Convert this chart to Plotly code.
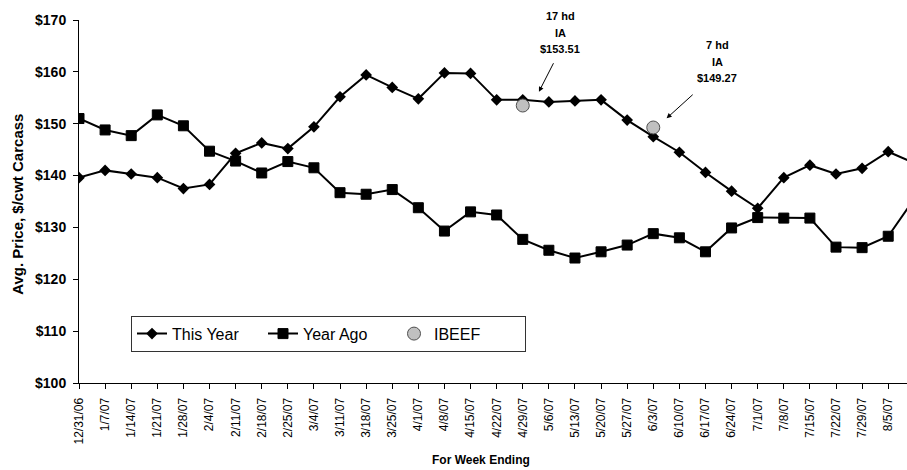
import plotly.graph_objects as go

weeks = ['12/31/06', '1/7/07', '1/14/07', '1/21/07', '1/28/07', '2/4/07', '2/11/07', '2/18/07',
         '2/25/07', '3/4/07', '3/11/07', '3/18/07', '3/25/07', '4/1/07', '4/8/07', '4/15/07',
         '4/22/07', '4/29/07', '5/6/07', '5/13/07', '5/20/07', '5/27/07', '6/3/07', '6/10/07',
         '6/17/07', '6/24/07', '7/1/07', '7/8/07', '7/15/07', '7/22/07', '7/29/07', '8/5/07',
         '8/12/07']

this_year = [139.6, 141.0, 140.3, 139.6, 137.5, 138.3, 144.3, 146.3, 145.2, 149.4, 155.2,
             159.4, 157.0, 154.8, 159.8, 159.7, 154.6, 154.6, 154.2, 154.4, 154.6, 150.7,
             147.5, 144.5, 140.6, 137.0, 133.7, 139.6, 142.0, 140.3, 141.4, 144.6, 142.4]

year_ago = [151.0, 148.8, 147.7, 151.7, 149.6, 144.7, 142.8, 140.5, 142.7, 141.5, 136.7,
            136.4, 137.3, 133.8, 129.3, 133.0, 132.4, 127.7, 125.6, 124.1, 125.3, 126.6,
            128.8, 128.0, 125.3, 129.9, 131.9, 131.8, 131.8, 126.2, 126.1, 128.3, 135.5]

ibeef_weeks = ['4/29/07', '6/3/07']
ibeef_price = [153.51, 149.27]
ibeef_notes = [['17 hd', 'IA', '$153.51'], ['7 hd', 'IA', '$149.27']]

FONT = 'Arial, Liberation Sans, sans-serif'

# plot area geometry (pixels)
L, T, W, H = 79, 20, 828, 363


def px_x(px):
    return (px - L) / W


def px_y(py):
    return 1 - (py - T) / H


fig = go.Figure()
fig.add_trace(go.Scatter(
    x=weeks, y=this_year, name='This Year', mode='lines+markers',
    line=dict(color='black', width=2),
    marker=dict(symbol='diamond', size=9, color='black')))
fig.add_trace(go.Scatter(
    x=weeks, y=year_ago, name='Year Ago', mode='lines+markers',
    line=dict(color='black', width=2),
    marker=dict(symbol='square', size=10, color='black', line=dict(color='black', width=1))))
fig.add_trace(go.Scatter(
    x=ibeef_weeks, y=ibeef_price, name='IBEEF', mode='markers',
    marker=dict(symbol='circle', size=13, color='#c0c0c0', line=dict(color='#505050', width=1))))

# annotation text blocks (pixel positions of each line's centre)
note_pos = [(560, [15.7, 33.3, 49.3]), (717.3, [45, 61.7, 77.7])]
for (xc, ys), lines in zip(note_pos, ibeef_notes):
    for yy, txt in zip(ys, lines):
        fig.add_annotation(xref='paper', yref='paper', x=px_x(xc), y=px_y(yy),
                           text='<b>%s</b>' % txt, showarrow=False,
                           font=dict(family=FONT, size=11, color='black'),
                           xanchor='center', yanchor='middle')

arrows = [(17.62, 156.17, 15.3, -30), (22.51, 151.04, 27.6, -25)]
for hx, hy, ax, ay in arrows:
    fig.add_annotation(x=hx, y=hy, ax=ax, ay=ay, text='', showarrow=True,
                       arrowhead=2, arrowsize=1, arrowwidth=1, arrowcolor='black', standoff=0)

# axis titles
fig.add_annotation(xref='paper', yref='paper', x=px_x(481), y=px_y(460),
                   text='<b>For Week Ending</b>', showarrow=False,
                   font=dict(family=FONT, size=12, color='black'),
                   xanchor='center', yanchor='middle')
fig.add_annotation(xref='paper', yref='paper', x=px_x(17.5), y=px_y(204.3),
                   text='<b>Avg. Price, $/cwt Carcass</b>', showarrow=False, textangle=-90,
                   font=dict(family=FONT, size=15, color='black'),
                   xanchor='center', yanchor='middle')

fig.update_layout(
    width=907, height=470,
    margin=dict(l=L, r=907 - L - W, t=T, b=470 - T - H, pad=0, autoexpand=False),
    paper_bgcolor='white', plot_bgcolor='white',
    font=dict(family=FONT, color='black'),
    showlegend=True,
    legend=dict(orientation='h', x=px_x(131), y=px_y(315.7),
                xanchor='left', yanchor='top',
                bgcolor='white', bordercolor='#333333', borderwidth=1,
                font=dict(family=FONT, size=16, color='black'),
                entrywidth=86, entrywidthmode='pixels'),
    xaxis=dict(type='category', range=[0, 31.72], automargin=False, showgrid=False, zeroline=False,
               showline=True, linecolor='black', linewidth=1,
               ticks='outside', ticklen=5, tickcolor='black', tickwidth=1,
               tickangle=-90, tickfont=dict(family=FONT, size=12, color='black'),
               ticklabelstandoff=4),
    yaxis=dict(range=[100, 170], dtick=10, tickprefix='$', automargin=False,
               showgrid=False, zeroline=False,
               showline=True, linecolor='black', linewidth=1,
               ticks='outside', ticklen=5, tickcolor='black', tickwidth=1,
               tickfont=dict(family=FONT, size=14, color='black', weight='bold'),
               ticklabelstandoff=4),
)

fig.write_html('out.html', config={'displayModeBar': False},
               post_script="document.body.style.margin='0';document.body.style.overflow='hidden';")
